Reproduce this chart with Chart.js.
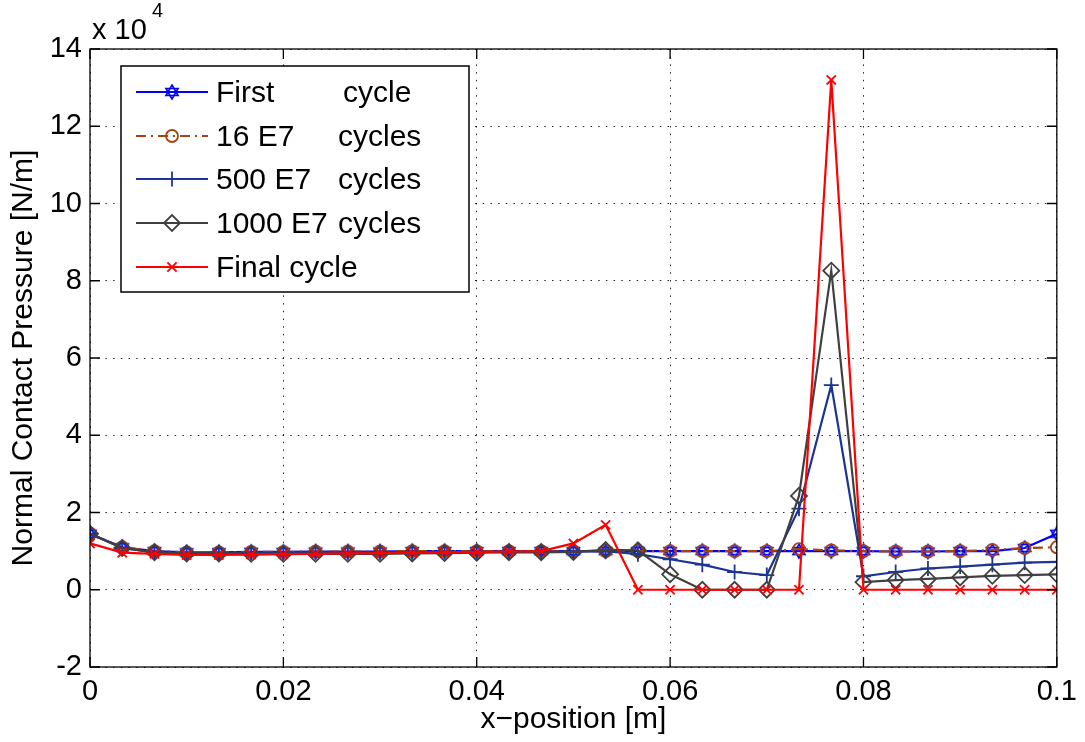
<!DOCTYPE html>
<html><head><meta charset="utf-8">
<script src="https://cdn.jsdelivr.net/npm/chart.js@4.4.0/dist/chart.umd.min.js"></script>
<style>html,body{margin:0;padding:0;background:#fff;}#wrap{width:1085px;height:742px;}</style>
</head><body><div id="wrap"><canvas id="c" width="1085" height="742"></canvas></div>
<script>
// x-positions [m]
const xPositions = [0, 0.00333, 0.00667, 0.01, 0.01333, 0.01667, 0.02, 0.02333, 0.02667, 0.03,
  0.03333, 0.03667, 0.04, 0.04333, 0.04667, 0.05, 0.05333, 0.05667, 0.06, 0.06333,
  0.06667, 0.07, 0.07333, 0.07667, 0.08, 0.08333, 0.08667, 0.09, 0.09333, 0.09667, 0.1];
// Normal contact pressure, in units of 10^4 N/m
const firstCycle = [1.45, 1.10, 1.00, 0.97, 0.97, 0.98, 0.98, 0.99, 0.99, 0.99,
  1.00, 1.00, 1.00, 1.00, 1.00, 1.00, 1.00, 1.00, 1.00, 1.00,
  1.00, 1.00, 1.00, 1.00, 1.00, 0.99, 0.99, 1.00, 1.00, 1.08, 1.45];
const cycles16E7 = [1.45, 1.10, 1.00, 0.97, 0.97, 0.98, 0.98, 0.99, 0.99, 0.99,
  1.00, 1.00, 1.00, 1.00, 1.00, 1.00, 1.00, 1.00, 1.00, 1.00,
  1.00, 1.00, 1.05, 1.02, 1.00, 0.99, 0.99, 1.00, 1.03, 1.08, 1.10];
const cycles500E7 = [1.45, 1.08, 0.97, 0.95, 0.95, 0.96, 0.96, 0.97, 0.97, 0.97,
  0.97, 0.98, 0.98, 0.98, 0.99, 0.99, 1.00, 0.92, 0.79, 0.65,
  0.46, 0.38, 2.10, 5.30, 0.35, 0.46, 0.55, 0.60, 0.65, 0.70, 0.72];
const cycles1000E7 = [1.45, 1.08, 0.97, 0.94, 0.94, 0.93, 0.93, 0.93, 0.93, 0.93,
  0.94, 0.95, 0.96, 0.97, 0.97, 0.98, 1.03, 1.02, 0.40, 0.00,
  0.00, 0.00, 2.43, 8.26, 0.20, 0.25, 0.28, 0.32, 0.36, 0.38, 0.40];
const finalCycle = [1.20, 0.96, 0.93, 0.90, 0.90, 0.91, 0.92, 0.93, 0.94, 0.95,
  0.96, 0.97, 0.98, 0.99, 1.00, 1.20, 1.68, 0.00, 0.00, 0.00,
  0.00, 0.00, 0.00, 13.20, 0.00, 0.00, 0.00, 0.00, 0.00, 0.00, 0.00];
const legendMain = ['First', '16 E7', '500 E7', '1000 E7', 'Final cycle'];
const legendSuffix = ['cycle', 'cycles', 'cycles', 'cycles', ''];
const xTicks = [0, 0.02, 0.04, 0.06, 0.08, 0.1];
const yTicks = [-2, 0, 2, 4, 6, 8, 10, 12, 14];

const FONT = '"Liberation Sans", Arial, Helvetica, sans-serif';

function makeHexagram(color, r, lw) {
  const size = Math.ceil(2 * r + lw * 2 + 2);
  const c = document.createElement('canvas'); c.width = c.height = size;
  const g = c.getContext('2d'); const cx = size / 2, cy = size / 2;
  g.strokeStyle = color; g.lineWidth = lw;
  for (const off of [-Math.PI / 2, Math.PI / 2]) {
    g.beginPath();
    for (let i = 0; i < 3; i++) {
      const a = off + i * 2 * Math.PI / 3;
      const px = cx + r * Math.cos(a), py = cy + r * Math.sin(a);
      if (i) g.lineTo(px, py); else g.moveTo(px, py);
    }
    g.closePath(); g.stroke();
  }
  return c;
}
const hexagram = makeHexagram('#0000ff', 7, 1.6);

function toPts(arr) { return arr.map((v, i) => ({ x: xPositions[i], y: v })); }

const datasets = [
  { label: 'First cycle', data: toPts(firstCycle), borderColor: '#0000ff', pointStyle: hexagram, pointRadius: 7,
    pointBorderColor: '#0000ff', pointBackgroundColor: 'rgba(0,0,0,0)', pointBorderWidth: 1.6, order: 5 },
  { label: '16 E7 cycles', data: toPts(cycles16E7), borderColor: '#a44412', borderDash: [10, 5, 2, 5], pointStyle: 'circle', pointRadius: 6,
    pointBorderColor: '#a44412', pointBackgroundColor: 'rgba(0,0,0,0)', pointBorderWidth: 1.8, order: 4 },
  { label: '500 E7 cycles', data: toPts(cycles500E7), borderColor: '#1c3494', pointStyle: 'cross', pointRadius: 7.5,
    pointBorderColor: '#1c3494', pointBackgroundColor: 'rgba(0,0,0,0)', pointBorderWidth: 1.8, order: 3 },
  { label: '1000 E7 cycles', data: toPts(cycles1000E7), borderColor: '#404040', pointStyle: 'rectRot', pointRadius: 8,
    pointBorderColor: '#404040', pointBackgroundColor: 'rgba(0,0,0,0)', pointBorderWidth: 1.8, order: 2 },
  { label: 'Final cycle', data: toPts(finalCycle), borderColor: '#ff0000', pointStyle: 'crossRot', pointRadius: 6.5,
    pointBorderColor: '#ff0000', pointBackgroundColor: 'rgba(0,0,0,0)', pointBorderWidth: 1.8, order: 1 }
];
datasets.forEach(d => { d.borderWidth = 2.2; d.tension = 0; d.fill = false; d.showLine = true; });

function drawMarker(ctx, ds, x, y) {
  if (ds.pointStyle instanceof HTMLCanvasElement) {
    ctx.drawImage(ds.pointStyle, x - ds.pointStyle.width / 2, y - ds.pointStyle.height / 2);
    return;
  }
  ctx.save();
  ctx.strokeStyle = ds.pointBorderColor; ctx.fillStyle = 'rgba(0,0,0,0)'; ctx.lineWidth = ds.pointBorderWidth;
  ctx.setLineDash([]);
  if (Chart.helpers && Chart.helpers.drawPoint) {
    Chart.helpers.drawPoint(ctx, { pointStyle: ds.pointStyle, rotation: 0, radius: ds.pointRadius, borderWidth: ds.pointBorderWidth }, x, y);
  } else {
    const r = ds.pointRadius; ctx.beginPath();
    if (ds.pointStyle === 'circle') ctx.arc(x, y, r, 0, Math.PI * 2);
    else if (ds.pointStyle === 'cross') { ctx.moveTo(x - r, y); ctx.lineTo(x + r, y); ctx.moveTo(x, y - r); ctx.lineTo(x, y + r); }
    else if (ds.pointStyle === 'rectRot') { ctx.moveTo(x - r, y); ctx.lineTo(x, y - r); ctx.lineTo(x + r, y); ctx.lineTo(x, y + r); ctx.closePath(); }
    else { const d = r * 0.707; ctx.moveTo(x - d, y - d); ctx.lineTo(x + d, y + d); ctx.moveTo(x + d, y - d); ctx.lineTo(x - d, y + d); }
    ctx.stroke();
  }
  ctx.restore();
}

const decor = {
  id: 'decor',
  afterDraw(chart) {
    const { ctx, chartArea: a, scales } = chart;
    ctx.save();
    // box
    ctx.strokeStyle = '#000'; ctx.lineWidth = 1.3; ctx.setLineDash([]);
    ctx.strokeRect(a.left, a.top, a.right - a.left, a.bottom - a.top);
    // inward ticks
    const TL = 10;
    ctx.beginPath();
    xTicks.forEach(v => { const px = scales.x.getPixelForValue(v);
      ctx.moveTo(px, a.bottom); ctx.lineTo(px, a.bottom - TL); ctx.moveTo(px, a.top); ctx.lineTo(px, a.top + TL); });
    yTicks.forEach(v => { const py = scales.y.getPixelForValue(v);
      ctx.moveTo(a.left, py); ctx.lineTo(a.left + TL, py); ctx.moveTo(a.right, py); ctx.lineTo(a.right - TL, py); });
    ctx.stroke();
    // axis titles
    ctx.fillStyle = '#000';
    ctx.font = '30px ' + FONT; ctx.textAlign = 'center'; ctx.textBaseline = 'middle';
    ctx.fillText('x\u2212position [m]', (a.left + a.right) / 2, 720);
    ctx.save(); ctx.translate(24, (a.top + a.bottom) / 2); ctx.rotate(-Math.PI / 2);
    ctx.fillText('Normal Contact Pressure [N/m]', 0, 0); ctx.restore();
    // exponent
    ctx.textAlign = 'left'; ctx.font = '29px ' + FONT;
    ctx.fillText('x 10', 92, 31);
    ctx.font = '20px ' + FONT;
    ctx.fillText('4', 152, 11);
    // legend
    const L = { x: 121, y: 66, w: 348, h: 226 };
    ctx.fillStyle = '#fff'; ctx.fillRect(L.x, L.y, L.w, L.h);
    ctx.strokeStyle = '#000'; ctx.lineWidth = 1.5; ctx.strokeRect(L.x, L.y, L.w, L.h);
    const rows = [92, 136, 179, 223, 267];
    datasets.forEach((ds, i) => {
      const y = rows[i];
      ctx.save();
      ctx.strokeStyle = ds.borderColor; ctx.lineWidth = 2.2; ctx.setLineDash(ds.borderDash || []);
      ctx.beginPath(); ctx.moveTo(136, y); ctx.lineTo(208, y); ctx.stroke();
      ctx.restore();
      drawMarker(ctx, ds, 172, y);
      ctx.fillStyle = '#000'; ctx.font = '30px ' + FONT; ctx.textAlign = 'left'; ctx.textBaseline = 'middle';
      ctx.fillText(legendMain[i], 216, y + 2);
      if (legendSuffix[i]) ctx.fillText(legendSuffix[i], legendSuffix[i] === 'cycle' ? 343 : 338, y + 2);
    });
    ctx.restore();
  }
};

new Chart(document.getElementById('c'), {
  type: 'line',
  data: { datasets },
  options: {
    responsive: false, animation: false,
    layout: { padding: { left: 0, top: 49, right: 25, bottom: 0 } },
    plugins: { legend: { display: false }, tooltip: { enabled: false } },
    scales: {
      x: {
        type: 'linear', min: 0, max: 0.1,
        afterBuildTicks: s => { s.ticks = xTicks.map(v => ({ value: v })); },
        afterFit: s => { s.height = 75; },
        ticks: { font: { size: 29, family: FONT }, color: '#000', padding: 8, maxRotation: 0,
          callback: v => String(Number(v.toFixed(2))) },
        grid: { color: 'rgba(0,0,0,0.85)', lineWidth: 1, drawTicks: false },
        border: { display: false, dash: [1.5, 6.2] }
      },
      y: {
        min: -2, max: 14,
        afterBuildTicks: s => { s.ticks = yTicks.map(v => ({ value: v })); },
        afterFit: s => { s.width = 90; },
        ticks: { font: { size: 29, family: FONT }, color: '#000', padding: 8,
          callback: v => String(v) },
        grid: { color: 'rgba(0,0,0,0.85)', lineWidth: 1, drawTicks: false },
        border: { display: false, dash: [1.5, 6.2] }
      }
    }
  },
  plugins: [decor]
});
</script></body></html>
